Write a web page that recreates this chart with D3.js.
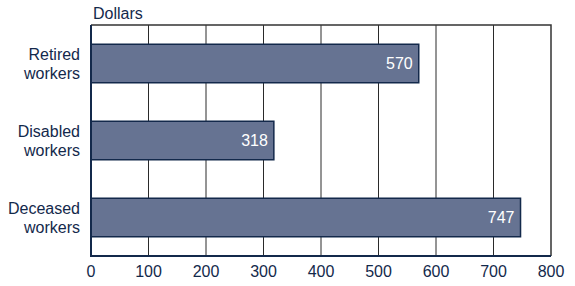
<!DOCTYPE html>
<html><head><meta charset="utf-8">
<script src="https://cdn.jsdelivr.net/npm/d3@7"></script>
<style>body{margin:0;background:#fff}svg{display:block}text{font-family:"Liberation Sans",Arial,sans-serif}</style>
</head><body>
<script>
const categories = [["Retired","workers"],["Disabled","workers"],["Deceased","workers"]];
const values = [570, 318, 747];
const ticks = [0,100,200,300,400,500,600,700,800];
const unitLabel = "Dollars";

const W = 575, H = 286;
const m = {left: 91, right: 24, top: 25, bottom: 30};
const svg = d3.select("body").append("svg").attr("width", W).attr("height", H);
const x = d3.scaleLinear().domain([0, 800]).range([m.left, W - m.right]);
const y = d3.scaleBand().domain(d3.range(values.length)).range([m.top, H - m.bottom]).paddingInner(0.5).paddingOuter(0.25);
const navy = "#13294b";
const fs = 16;

// gridlines
svg.append("g").selectAll("line").data(ticks.filter(t => t > 0 && t < 800)).join("line")
  .attr("x1", d => x(d)).attr("x2", d => x(d))
  .attr("y1", m.top).attr("y2", H - m.bottom)
  .attr("stroke", "#2a2a2a").attr("stroke-width", 1);

// frame top/right
svg.append("path")
  .attr("d", `M${x(0)},${m.top}H${x(800)}V${H - m.bottom}`)
  .attr("fill", "none").attr("stroke", "#333").attr("stroke-width", 1.5);

// bars
svg.append("g").selectAll("rect").data(values).join("rect")
  .attr("x", x(0)).attr("y", (d, i) => y(i))
  .attr("width", d => x(d) - x(0)).attr("height", y.bandwidth())
  .attr("fill", "#667392").attr("stroke", navy).attr("stroke-width", 1.5);

// value labels
svg.append("g").selectAll("text").data(values).join("text")
  .attr("x", d => x(d) - 6).attr("y", (d, i) => y(i) + y.bandwidth() / 2)
  .attr("dy", "0.36em").attr("text-anchor", "end")
  .attr("fill", "#fff").attr("font-size", fs).text(d => d);

// left & bottom axis lines
svg.append("path")
  .attr("d", `M${x(0)},${m.top}V${H - m.bottom}H${x(800)}`)
  .attr("fill", "none").attr("stroke", navy).attr("stroke-width", 2);

// x tick labels
svg.append("g").selectAll("text").data(ticks).join("text")
  .attr("x", d => x(d)).attr("y", H - m.bottom + 15)
  .attr("dy", "0.36em").attr("text-anchor", "middle")
  .attr("fill", navy).attr("font-size", fs).text(d => d);

// category labels
const cat = svg.append("g").selectAll("text").data(categories).join("text")
  .attr("text-anchor", "end").attr("fill", navy).attr("font-size", fs);
cat.each(function(d, i) {
  const cy = y(i) + y.bandwidth() / 2;
  d3.select(this).selectAll("tspan").data(d).join("tspan")
    .attr("x", m.left - 11).attr("y", (t, j) => cy + (j - 0.5) * 19)
    .attr("dy", "0.36em").text(t => t);
});

// unit label
svg.append("text").attr("x", 93).attr("y", 13).attr("dy", "0.36em")
  .attr("fill", navy).attr("font-size", fs).text(unitLabel);
</script>
</body></html>
